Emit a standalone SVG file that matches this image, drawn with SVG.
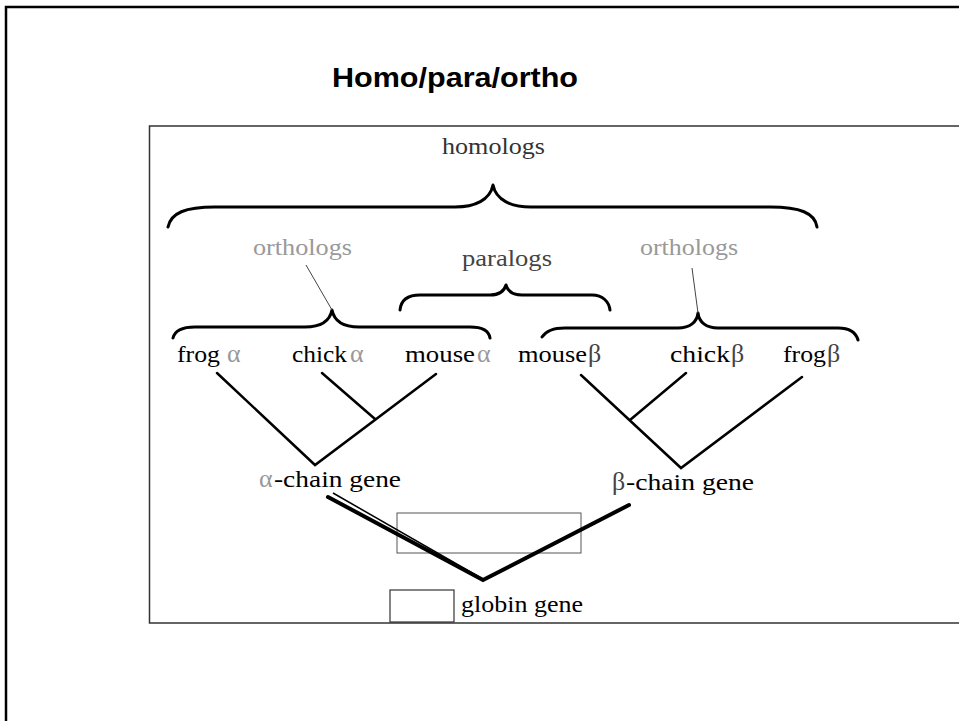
<svg xmlns="http://www.w3.org/2000/svg" width="959" height="721" viewBox="0 0 959 721">
<style>
.serif{font-family:"Liberation Serif","Times New Roman",serif;font-size:23px;fill:#000}
.gr{font-size:26px}
.gray{fill:#999}
.dg{fill:#444}
.brace{fill:none;stroke:#000;stroke-width:3;stroke-linecap:round;stroke-linejoin:round}
.tree{fill:none;stroke:#000;stroke-width:2.5;stroke-linecap:round}
.thin{fill:none;stroke:#555;stroke-width:1}
.thick{fill:none;stroke:#000;stroke-width:4;stroke-linecap:round}
</style>
<rect width="959" height="721" fill="#fff"/>
<path d="M6,721 V7 H959" fill="none" stroke="#000" stroke-width="2.5"/>
<text x="455" y="87" text-anchor="middle" font-family="Liberation Sans,Arial,sans-serif" font-weight="bold" font-size="28" textLength="246" lengthAdjust="spacingAndGlyphs">Homo/para/ortho</text>
<path d="M959,126 H149.5 V623 H959" fill="none" stroke="#333" stroke-width="1.5"/>
<g id="homologs"><text class="serif" x="442" y="154" textLength="103" lengthAdjust="spacingAndGlyphs" style="fill:#333">homologs</text></g>
<g id="orthologs-left"><text class="serif gray" x="253" y="255" textLength="99" lengthAdjust="spacingAndGlyphs">orthologs</text></g>
<g id="paralogs"><text class="serif dg" x="462" y="266" textLength="90" lengthAdjust="spacingAndGlyphs">paralogs</text></g>
<g id="orthologs-right"><text class="serif gray" x="640" y="255" textLength="98" lengthAdjust="spacingAndGlyphs">orthologs</text></g>
<g id="frog-alpha"><text class="serif" x="177" y="362" textLength="43" lengthAdjust="spacingAndGlyphs">frog</text><text class="serif gray gr" x="227" y="362">α</text></g>
<g id="chick-alpha"><text class="serif" x="292" y="362" textLength="55" lengthAdjust="spacingAndGlyphs">chick</text><text class="serif gray gr" x="350" y="362">α</text></g>
<g id="mouse-alpha"><text class="serif" x="405" y="362" textLength="70" lengthAdjust="spacingAndGlyphs">mouse</text><text class="serif gray gr" x="477" y="362">α</text></g>
<g id="mouse-beta"><text class="serif" x="518" y="362" textLength="69" lengthAdjust="spacingAndGlyphs">mouse</text><text class="serif dg gr" x="588" y="362">β</text></g>
<g id="chick-beta"><text class="serif" x="670" y="362" textLength="60" lengthAdjust="spacingAndGlyphs">chick</text><text class="serif dg gr" x="731" y="362">β</text></g>
<g id="frog-beta"><text class="serif" x="783" y="362" textLength="43" lengthAdjust="spacingAndGlyphs">frog</text><text class="serif dg gr" x="827" y="362">β</text></g>
<g id="alpha-chain"><text class="serif gray gr" x="259" y="487">α</text><text class="serif" x="274" y="487" textLength="127" lengthAdjust="spacingAndGlyphs">-chain gene</text></g>
<g id="beta-chain"><text class="serif dg gr" x="612" y="490">β</text><text class="serif" x="626" y="490" textLength="128" lengthAdjust="spacingAndGlyphs">-chain gene</text></g>
<g id="globin"><rect x="390" y="590" width="64" height="32" fill="#fff" stroke="#333" stroke-width="1.2"/><text class="serif" x="461" y="612" textLength="122" lengthAdjust="spacingAndGlyphs">globin gene</text></g>
<g id="mid-box"><rect x="397" y="513" width="184" height="40" class="thin"/></g>
<g id="connectors">
<path class="brace" d="M168,227 C171,213 185,207 215,207 H455 C475,207 490,200 493,185 C496,200 511,207 531,207 H770 C800,207 815,213 817,227"/>
<path class="brace" d="M173,338 C175,330 182,327 195,327 H305 C322,327 330,320 332,310 C334,320 342,327 359,327 H470 C483,327 489,331 490,338"/>
<path class="brace" d="M400,310 C401,300 408,295 420,295 H490 C499,295 504,292 506,285 C508,292 513,295 522,295 H592 C603,295 609,302 610,310"/>
<path class="brace" d="M542,337 C546,331 552,328 565,328 H678 C690,328 697,322 698,313 C699,322 706,328 718,328 H838 C850,328 856,333 858,340"/>
<line x1="306" y1="265" x2="332" y2="310" stroke="#444" stroke-width="1"/>
<line x1="692" y1="268" x2="698" y2="313" stroke="#444" stroke-width="1"/>
<path class="tree" d="M217,373 L315,465 L436,374 M322,373 L375,419"/>
<path class="tree" d="M581,375 L681,468 L802,377 M686,373 L630,420"/>
<path class="thick" d="M328,497 L483,580 L629,505"/>
<path d="M333,493 L481,578" stroke="#000" stroke-width="1.5" fill="none"/>
</g>
</svg>
